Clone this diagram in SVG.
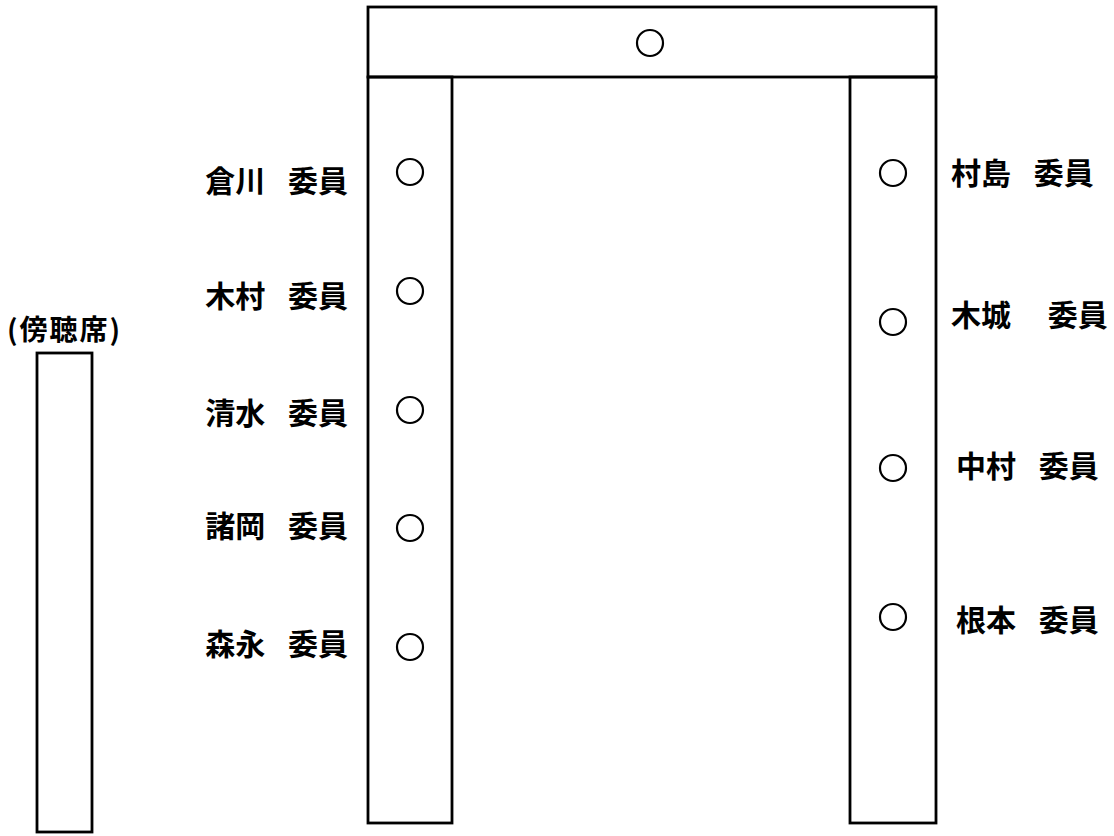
<svg xmlns="http://www.w3.org/2000/svg" width="1114" height="836" viewBox="0 0 1114 836">
<style>
.box{fill:none;stroke:#000;stroke-width:2.8}
.seat{fill:none;stroke:#000;stroke-width:2.2}
.lbl{font-family:"Noto Sans CJK JP","Noto Sans CJK SC",sans-serif;font-weight:bold;font-size:30px;fill:#000;word-spacing:16px}
.end{text-anchor:end}
</style>
<rect width="1114" height="836" fill="#fff"/>
<g id="tables">
<rect id="table-top" class="box" x="368" y="7" width="568" height="70"/>
<rect id="table-left" class="box" x="368" y="77" width="84" height="746"/>
<rect id="table-right" class="box" x="850" y="77" width="86" height="746"/>
</g>
<g id="gallery">
<text class="lbl" x="7" y="340" style="font-size:28px;word-spacing:0;letter-spacing:2px">(傍聴席)</text>
<rect class="box" x="37" y="353" width="55" height="479"/>
</g>
<g id="seat-chair"><circle class="seat" cx="650" cy="43" r="13"/></g>
<g id="seat-kurakawa"><circle class="seat" cx="410" cy="172" r="13"/><text class="lbl end" x="348" y="192" xml:space="preserve">倉川 委員</text></g>
<g id="seat-kimura"><circle class="seat" cx="410" cy="291" r="13"/><text class="lbl end" x="348" y="307" xml:space="preserve">木村 委員</text></g>
<g id="seat-shimizu"><circle class="seat" cx="410" cy="410" r="13"/><text class="lbl end" x="348" y="424" xml:space="preserve">清水 委員</text></g>
<g id="seat-morooka"><circle class="seat" cx="410" cy="528" r="13"/><text class="lbl end" x="348" y="537" xml:space="preserve">諸岡 委員</text></g>
<g id="seat-morinaga"><circle class="seat" cx="410" cy="647" r="13"/><text class="lbl end" x="348" y="655" xml:space="preserve">森永 委員</text></g>
<g id="seat-murashima"><circle class="seat" cx="893" cy="173" r="13"/><text class="lbl" x="951" y="184" xml:space="preserve">村島 委員</text></g>
<g id="seat-kishiro"><circle class="seat" cx="893" cy="322" r="13"/><text class="lbl" x="951" y="326" xml:space="preserve" style="word-spacing:30px">木城 委員</text></g>
<g id="seat-nakamura"><circle class="seat" cx="893" cy="468" r="13"/><text class="lbl" x="956" y="477" xml:space="preserve">中村 委員</text></g>
<g id="seat-nemoto"><circle class="seat" cx="893" cy="617" r="13"/><text class="lbl" x="956" y="631" xml:space="preserve">根本 委員</text></g>
<g id="connectors"/>
</svg>
